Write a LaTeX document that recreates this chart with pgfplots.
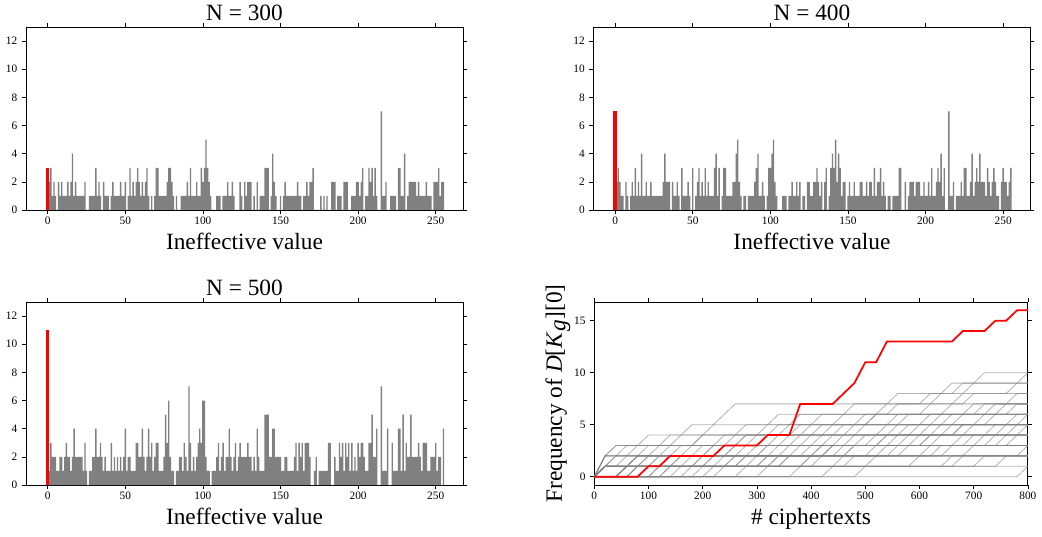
\documentclass[border=0pt]{standalone}
\usepackage{pgfplots}
\pgfplotsset{compat=1.18}
\usepackage{pgfplotstable}
\usepackage{fontspec}
\setmainfont{Liberation Serif}
\definecolor{barGray}{HTML}{808080}

\pgfplotstableread[row sep=\\]{y\\
3\\2\\3\\1\\2\\1\\0\\2\\1\\2\\1\\1\\1\\2\\1\\2\\
4\\1\\2\\1\\1\\1\\1\\1\\2\\0\\0\\1\\1\\1\\1\\3\\
1\\2\\1\\0\\2\\1\\1\\1\\0\\1\\2\\1\\1\\1\\1\\2\\
1\\1\\2\\0\\1\\3\\1\\2\\1\\2\\3\\2\\1\\2\\1\\2\\
3\\1\\0\\1\\0\\1\\3\\3\\1\\1\\1\\1\\1\\2\\3\\3\\
2\\1\\0\\1\\0\\0\\1\\1\\1\\1\\2\\1\\3\\1\\1\\1\\
2\\1\\1\\3\\2\\3\\5\\3\\2\\1\\0\\0\\0\\1\\1\\1\\
0\\1\\1\\1\\2\\1\\1\\2\\1\\0\\0\\0\\2\\1\\0\\2\\
1\\2\\2\\2\\0\\1\\0\\2\\0\\1\\1\\1\\3\\3\\3\\0\\
1\\4\\2\\1\\0\\0\\1\\0\\1\\2\\1\\1\\1\\1\\1\\1\\
1\\2\\1\\1\\0\\1\\1\\2\\1\\2\\2\\3\\0\\0\\0\\0\\
1\\0\\1\\0\\1\\0\\0\\2\\2\\2\\0\\1\\1\\1\\0\\2\\
2\\2\\0\\0\\1\\1\\1\\2\\2\\1\\2\\3\\0\\1\\1\\3\\
2\\3\\1\\3\\1\\0\\0\\7\\1\\1\\2\\0\\0\\1\\1\\1\\
1\\0\\3\\3\\1\\1\\4\\0\\1\\2\\2\\2\\2\\2\\1\\2\\
1\\1\\1\\1\\2\\1\\1\\1\\0\\2\\2\\2\\3\\1\\2\\2\\
}\dataA

\pgfplotstableread[row sep=\\]{y\\
7\\2\\3\\2\\1\\1\\0\\2\\1\\0\\1\\2\\1\\3\\1\\2\\
1\\4\\1\\1\\2\\1\\1\\2\\1\\1\\1\\1\\1\\1\\1\\2\\
4\\2\\2\\2\\0\\2\\1\\1\\2\\1\\0\\3\\1\\1\\1\\2\\
1\\0\\3\\0\\1\\2\\3\\1\\2\\1\\3\\1\\2\\1\\1\\1\\
3\\4\\1\\3\\0\\1\\3\\3\\1\\1\\1\\1\\2\\2\\4\\5\\
2\\1\\0\\1\\1\\0\\1\\1\\1\\1\\2\\3\\4\\1\\1\\2\\
1\\0\\1\\3\\3\\4\\5\\2\\1\\0\\0\\0\\1\\1\\1\\0\\
1\\1\\2\\1\\1\\2\\1\\2\\0\\1\\1\\0\\2\\2\\1\\1\\
2\\2\\3\\2\\1\\2\\0\\2\\3\\0\\1\\3\\4\\3\\5\\2\\
4\\3\\1\\2\\2\\0\\1\\2\\1\\1\\2\\1\\1\\1\\2\\2\\
1\\1\\2\\1\\2\\2\\1\\3\\1\\2\\2\\3\\1\\2\\1\\0\\
1\\1\\0\\1\\1\\1\\1\\3\\3\\0\\0\\2\\0\\1\\2\\2\\
2\\1\\2\\2\\2\\1\\1\\2\\1\\1\\2\\1\\3\\1\\1\\2\\
3\\2\\4\\1\\3\\0\\0\\7\\1\\1\\2\\0\\1\\1\\1\\2\\
1\\3\\3\\1\\1\\2\\4\\1\\2\\3\\2\\4\\2\\2\\2\\1\\
3\\2\\1\\2\\3\\2\\1\\1\\0\\2\\3\\2\\2\\1\\2\\3\\
}\dataB

\pgfplotstableread[row sep=\\]{y\\
11\\1\\3\\2\\2\\2\\1\\1\\2\\2\\1\\2\\3\\2\\2\\1\\
2\\4\\2\\2\\2\\2\\2\\1\\3\\1\\0\\1\\1\\2\\2\\4\\
2\\2\\3\\2\\1\\2\\1\\1\\1\\3\\1\\2\\1\\2\\1\\2\\
1\\2\\4\\1\\2\\2\\1\\1\\1\\3\\3\\2\\2\\4\\2\\1\\
2\\4\\2\\3\\1\\2\\3\\3\\1\\1\\1\\2\\5\\3\\6\\2\\
1\\1\\0\\1\\1\\2\\2\\1\\3\\2\\1\\7\\3\\1\\2\\1\\
2\\3\\4\\3\\6\\6\\2\\1\\1\\0\\1\\1\\1\\2\\3\\1\\
2\\3\\1\\2\\2\\4\\2\\1\\2\\3\\1\\2\\3\\2\\2\\2\\
2\\3\\2\\2\\1\\2\\1\\4\\2\\1\\1\\1\\5\\5\\5\\2\\
2\\4\\4\\2\\2\\2\\2\\1\\1\\2\\2\\1\\1\\1\\1\\2\\
3\\1\\3\\2\\3\\1\\3\\3\\3\\2\\0\\0\\1\\2\\0\\1\\
1\\1\\1\\1\\1\\3\\3\\0\\0\\2\\1\\1\\3\\2\\3\\1\\
3\\2\\3\\1\\3\\1\\2\\1\\3\\2\\3\\3\\2\\1\\1\\3\\
3\\5\\2\\2\\4\\0\\0\\7\\1\\1\\1\\4\\0\\0\\3\\1\\
1\\1\\4\\4\\1\\5\\1\\3\\2\\2\\5\\2\\2\\2\\2\\3\\
2\\1\\3\\3\\3\\1\\1\\2\\2\\2\\3\\1\\2\\2\\0\\4\\
}\dataC

\pgfplotsset{
  common/.style={
    scale only axis, anchor=south west,
    tick align=outside, major tick length=3pt,
    tick style={black, line width=0.5pt},
    axis line style={line width=0.6pt},
    tick label style={font=\fontsize{8.5}{8.5}\selectfont},
    /pgf/number format/assume math mode=true,
    label style={font=\fontsize{17.5}{17.5}\selectfont},
    title style={font=\fontsize{17.5}{17.5}\selectfont, at={(0.5,1)}, anchor=south, yshift=-4.5pt},
    xticklabel style={yshift=1pt},
  },
  hist/.style={common,
    width=327.75pt, height=137.25pt,
    xmin=-14, xmax=267.6, ymin=0, ymax=13,
    xtick={0,50,...,250}, ytick={0,2,...,12},
    xlabel={Ineffective value},
    xlabel style={yshift=1pt},
  },
  gbar/.style={ybar, bar shift=0pt, bar width=0.88, fill=barGray, draw=none},
  rbar/.style={ybar, bar shift=0pt, bar width=2.2, fill=red, draw=none},
  gl/.style={color=barGray, opacity=0.6, line width=0.6pt},
}

\begin{document}
\begin{tikzpicture}
\useasboundingbox (0pt,0pt) rectangle (781.5pt,402pt);

% N = 300
\begin{axis}[hist, at={(19.5pt,244.5pt)}, title={N = 300}]
\addplot[gbar] table[x expr=\coordindex, y=y] {\dataA};
\addplot[rbar] coordinates {(0,3)};
\end{axis}

% N = 400
\begin{axis}[hist, at={(445.1pt,244.5pt)}, title={N = 400}]
\addplot[gbar] table[x expr=\coordindex, y=y] {\dataB};
\addplot[rbar] coordinates {(0,7)};
\end{axis}

% N = 500
\begin{axis}[hist, at={(19.5pt,38.25pt)}, title={N = 500}]
\addplot[gbar] table[x expr=\coordindex, y=y] {\dataC};
\addplot[rbar] coordinates {(0,11)};
\end{axis}

% frequency chart
\begin{axis}[common, at={(445.7pt,38.25pt)}, width=325.2pt, height=137.25pt,
  xmin=0, xmax=800, ymin=-0.8, ymax=16.8,
  xtick={0,100,...,800}, ytick={0,5,10,15},
  xlabel={\# ciphertexts}, xlabel style={yshift=1pt},
  ylabel={Frequency of \textit{D}[\textit{K}$_{\textit{g}}$][0]}, ylabel style={yshift=-4pt},
]
\addplot[gl] coordinates {(0,0)(780,0)(800,1)};
\addplot[gl] coordinates {(0,0)(40,0)(60,1)(740,1)(760,2)(800,2)};
\addplot[gl] coordinates {(0,0)(120,0)(140,1)(500,1)(520,2)(800,2)};
\addplot[gl] coordinates {(0,0)(300,0)(320,1)(640,1)(660,2)(780,2)(800,3)};
\addplot[gl] coordinates {(0,0)(20,1)(240,1)(260,2)(560,2)(580,3)(800,3)};
\addplot[gl] coordinates {(0,0)(80,0)(100,1)(200,1)(220,2)(420,2)(440,3)(700,3)(720,4)(800,4)};
\addplot[gl] coordinates {(0,0)(20,1)(40,1)(60,2)(320,2)(340,3)(600,3)(620,4)(800,4)};
\addplot[gl] coordinates {(0,0)(160,0)(180,1)(380,1)(400,2)(460,2)(480,3)(740,3)(760,4)(800,4)};
\addplot[gl] coordinates {(0,0)(60,0)(80,1)(280,1)(300,2)(360,2)(380,3)(520,3)(540,4)(680,4)(700,5)(800,5)};
\addplot[gl] coordinates {(0,0)(20,1)(120,1)(140,2)(260,2)(280,3)(400,3)(420,4)(600,4)(620,5)(800,5)};
\addplot[gl] coordinates {(0,0)(20,2)(180,2)(200,3)(340,3)(360,4)(480,4)(500,5)(720,5)(740,6)(800,6)};
\addplot[gl] coordinates {(0,0)(40,0)(60,1)(100,1)(120,2)(220,2)(240,3)(300,3)(320,4)(440,4)(460,5)(560,5)(580,6)(760,6)(780,7)(800,7)};
\addplot[gl] coordinates {(0,0)(20,1)(60,1)(80,2)(160,2)(180,3)(360,3)(380,4)(580,4)(600,5)(660,5)(680,6)(800,6)};
\addplot[gl] coordinates {(0,0)(100,0)(120,1)(240,1)(260,2)(340,2)(360,3)(440,3)(460,4)(540,4)(560,5)(780,5)(800,6)};
\addplot[gl] coordinates {(0,0)(20,1)(80,1)(100,2)(140,2)(160,3)(240,3)(260,4)(380,4)(400,5)(500,5)(520,6)(800,6)};
\addplot[gl] coordinates {(0,0)(200,0)(220,1)(320,1)(340,2)(420,2)(440,3)(620,3)(640,4)(760,4)(780,5)(800,5)};
\addplot[gl] coordinates {(0,0)(20,1)(180,1)(200,2)(280,2)(300,3)(480,3)(500,4)(660,4)(680,5)(800,5)};
\addplot[gl] coordinates {(0,0)(40,0)(60,1)(140,1)(160,2)(400,2)(420,3)(560,3)(580,4)(720,4)(740,5)(800,5)};
\addplot[gl] coordinates {(0,0)(20,1)(260,1)(280,2)(520,2)(540,3)(660,3)(680,4)(800,4)};
\addplot[gl] coordinates {(0,0)(140,0)(160,1)(340,1)(360,2)(600,2)(620,3)(720,3)(740,4)(800,4)};
\addplot[gl] coordinates {(0,0)(20,1)(340,1)(360,2)(460,2)(480,3)(800,3)};
\addplot[gl] coordinates {(0,0)(220,0)(240,1)(440,1)(460,2)(680,2)(700,3)(800,3)};
\addplot[gl] coordinates {(0,0)(360,0)(380,1)(580,1)(600,2)(800,2)};
\addplot[gl] coordinates {(0,0)(20,1)(400,1)(420,2)(640,2)(660,3)(800,3)};
\addplot[gl] coordinates {(0,0)(60,0)(80,1)(460,1)(480,2)(800,2)};
\addplot[gl] coordinates {(0,0)(260,0)(280,1)(700,1)(720,2)(800,2)};
\addplot[gl] coordinates {(0,0)(480,0)(500,1)(800,1)};
\addplot[gl] coordinates {(0,0)(20,1)(100,1)(120,2)(300,2)(320,3)(500,3)(520,4)(640,4)(660,5)(800,5)};
\addplot[gl] coordinates {(0,0)(40,0)(60,1)(180,1)(200,2)(380,2)(400,3)(580,3)(600,4)(800,4)};
\addplot[gl] coordinates {(0,0)(20,1)(140,1)(160,2)(220,2)(240,3)(420,3)(440,4)(560,4)(580,5)(700,5)(720,6)(800,6)};
\addplot[gl] coordinates {(0,0)(80,0)(100,1)(160,1)(180,2)(240,2)(260,3)(380,3)(400,4)(520,4)(540,5)(640,5)(660,6)(800,6)};
\addplot[gl] coordinates {(0,0)(20,1)(200,1)(220,2)(300,2)(320,3)(460,3)(480,4)(620,4)(640,5)(760,5)(780,6)(800,6)};
\addplot[gl] coordinates {(0,0)(120,0)(140,1)(260,1)(280,2)(440,2)(460,3)(540,3)(560,4)(740,4)(760,5)(800,5)};
\addplot[gl] coordinates {(0,0)(20,1)(60,1)(80,2)(240,2)(260,3)(320,3)(340,4)(460,4)(480,5)(620,5)(640,6)(720,6)(740,7)(800,7)};
\addplot[gl] coordinates {(0,0)(180,0)(200,1)(300,1)(320,2)(500,2)(520,3)(680,3)(700,4)(800,4)};
\addplot[gl] coordinates {(0,0)(20,2)(60,2)(80,3)(180,3)(200,4)(260,4)(280,5)(360,5)(380,6)(520,6)(540,7)(680,7)(700,8)(800,8)};
\addplot[gl] coordinates {(0,0)(20,1)(80,1)(100,2)(200,2)(220,3)(280,3)(300,4)(400,4)(420,5)(540,5)(560,6)(680,6)(700,7)(800,7)};
\addplot[gl] coordinates {(0,0)(60,0)(80,1)(220,1)(240,2)(400,2)(420,3)(520,3)(540,4)(660,4)(680,5)(800,5)};
\addplot[gl] coordinates {(0,0)(20,1)(300,1)(320,2)(420,2)(440,3)(600,3)(620,4)(780,4)(800,5)};
\addplot[gl] coordinates {(0,0)(40,0)(60,1)(320,1)(340,2)(540,2)(560,3)(760,3)(780,4)(800,4)};
\addplot[gl] coordinates {(0,0)(100,0)(120,1)(380,1)(400,2)(620,2)(640,3)(800,3)};
\addplot[gl] coordinates {(0,0)(420,0)(440,1)(660,1)(680,2)(800,2)};
\addplot[gl] coordinates {(0,0)(20,2)(40,3)(120,3)(140,4)(200,4)(220,5)(320,5)(340,6)(460,6)(480,7)(600,7)(620,8)(760,8)(780,9)(800,9)};
\addplot[gl] coordinates {(0,0)(20,2)(40,3)(80,3)(100,4)(160,4)(180,5)(220,5)(240,6)(260,7)(540,7)(560,8)(640,8)(660,9)(700,9)(720,10)(800,10)};
\addplot[gl] coordinates {(0,0)(20,2)(40,2)(60,3)(140,3)(160,4)(300,4)(320,5)(400,5)(420,6)(600,6)(620,7)(640,8)(660,8)(680,9)(780,9)(800,10)};
\addplot[gl] coordinates {(0,0)(20,1)(40,2)(120,2)(140,3)(180,3)(200,4)(360,4)(380,5)(440,5)(460,6)(540,6)(560,7)(660,7)(680,8)(700,9)(800,9)};
\addplot[gl] coordinates {(0,0)(20,1)(40,2)(100,2)(120,3)(220,3)(240,4)(320,4)(340,5)(500,5)(520,6)(640,6)(660,7)(760,7)(780,8)(800,8)};
\addplot[gl] coordinates {(0,0)(40,0)(60,1)(80,2)(200,2)(220,3)(260,3)(280,4)(340,4)(360,5)(480,5)(500,6)(700,6)(720,7)(800,7)};
\addplot[gl] coordinates {(0,0)(20,1)(60,1)(80,2)(100,3)(260,3)(280,4)(420,4)(440,5)(600,5)(620,6)(740,6)(760,7)(800,7)};
\addplot[red, line width=1.3pt] coordinates {(0,0)(80,0)(100,1)(120,1)(140,2)(220,2)(240,3)(300,3)(320,4)(360,4)(380,7)(440,7)(460,8)(480,9)(500,11)(520,11)(540,13)(660,13)(680,14)(720,14)(740,15)(760,15)(780,16)(800,16)};
\end{axis}
\end{tikzpicture}
\end{document}
